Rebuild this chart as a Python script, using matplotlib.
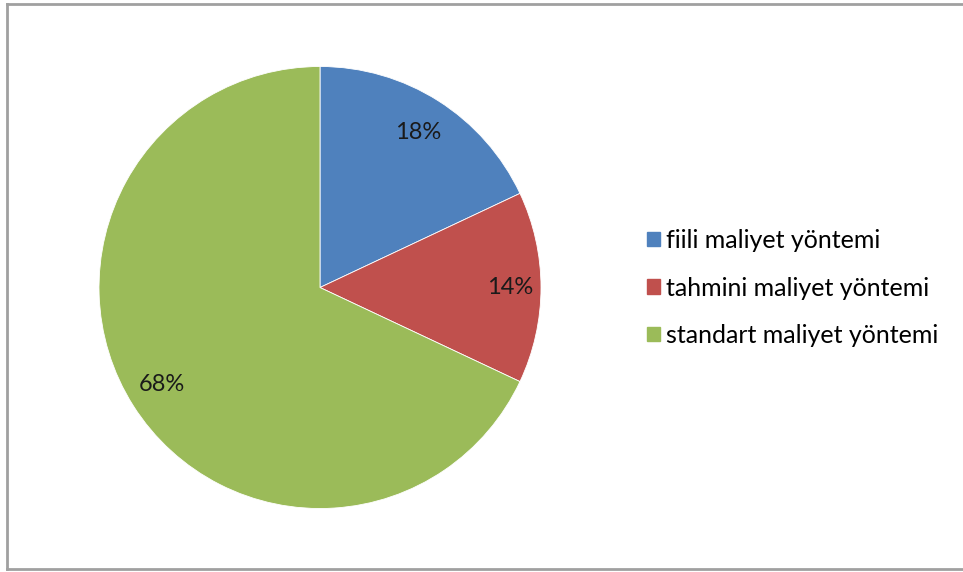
import numpy as np
import matplotlib
matplotlib.use("Agg")
import matplotlib.pyplot as plt
from matplotlib.lines import Line2D

categories = ["fiili maliyet yöntemi", "tahmini maliyet yöntemi", "standart maliyet yöntemi"]
shares = [18, 14, 68]
colors = ["#4F81BD", "#C0504D", "#9BBB59"]

plt.rcParams["font.family"] = ["Lato", "DejaVu Sans"]

W, H = 963, 572
fig = plt.figure(figsize=(W / 100, H / 100), dpi=100)
fig.patch.set_facecolor("white")

# outer frame (left, top, bottom)
frame_kw = dict(color="#a0a0a0", lw=2.0, transform=fig.transFigure)
fig.add_artist(Line2D([7 / W, 7 / W], [1 - 3.5 / H, 1 - 569 / H], **frame_kw))
fig.add_artist(Line2D([7 / W, 1.0], [1 - 3.5 / H, 1 - 3.5 / H], **frame_kw))
fig.add_artist(Line2D([7 / W, 1.0], [1 - 569 / H, 1 - 569 / H], **frame_kw))

cx, cy, r = 320, 287.5, 221
ax = fig.add_axes([(cx - r) / W, 1 - (cy + r) / H, 2 * r / W, 2 * r / H])

wedges, texts, autotexts = ax.pie(
    shares, colors=colors, startangle=90, counterclock=False,
    autopct=lambda p: f"{p:.0f}%", pctdistance=0.83,
    wedgeprops=dict(edgecolor="white", linewidth=0.6),
    textprops=dict(fontsize=17, color="#1a1a1a"),
)
ax.set_xlim(-1, 1)
ax.set_ylim(-1, 1)
ax.set_aspect("equal")
ax.set_axis_off()

# shift the large-slice label toward its best-fit spot
ang = np.deg2rad(-148.5)
autotexts[2].set_position((0.84 * np.cos(ang), 0.84 * np.sin(ang)))
autotexts[1].set_position((0.86, 0.0))

handles = [plt.Rectangle((0, 0), 1, 1, color=c) for c in colors]
fig.legend(handles, categories, loc="center left",
           bbox_to_anchor=(647 / W, 1 - 288 / H), frameon=False,
           fontsize=18, handlelength=0.52, handleheight=0.52,
           handletextpad=0.25, labelspacing=0.98, borderpad=0,
           borderaxespad=0)

fig.savefig("out.png", dpi=100)
